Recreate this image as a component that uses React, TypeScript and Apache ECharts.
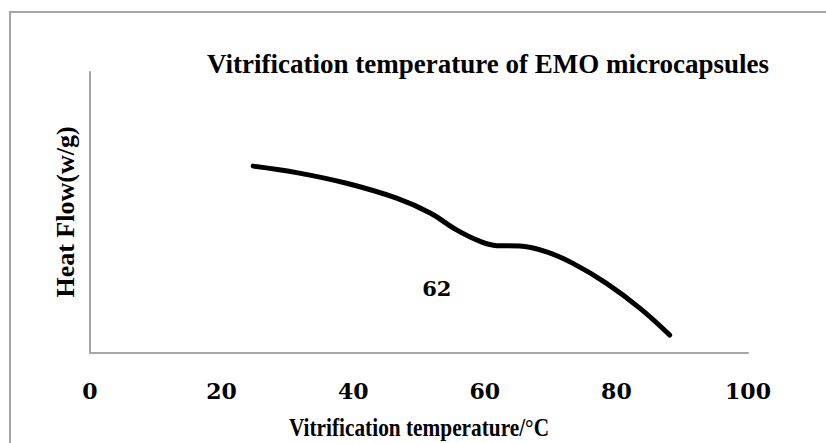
import React, { useEffect, useRef } from "react";
import * as echarts from "echarts";

const temperature = [24.8, 31.4, 39.0, 46.6, 51.7, 55.7, 59.3, 61.8, 65.3, 69.4, 73.4, 78.5, 83.6, 88.1];
const heatFlow = [66.5, 64.2, 60.4, 55.1, 49.8, 43.8, 39.7, 38.2, 38.1, 36.0, 31.9, 24.8, 15.9, 6.4];
const xTicks = [0, 20, 40, 60, 80, 100];
const annotationText = "62";
const annotationPos = [52.7, 23];
const titleText = "Vitrification temperature of EMO microcapsules";
const xName = "Vitrification temperature/°C";
const yName = "Heat Flow(w/g)";

export default function App() {
  const ref = useRef<HTMLDivElement>(null);
  useEffect(() => {
    if (!ref.current) return;
    const chart = echarts.init(ref.current, null, { renderer: "svg" });
    const data = temperature.map((t, i) => [t, heatFlow[i]]);
    const nameFont = { fontFamily: "Liberation Serif", fontWeight: "bold", fill: "#000" };
    chart.setOption({
      animation: false,
      backgroundColor: "#ffffff",
      title: {
        text: titleText,
        left: 483,
        top: 45,
        textAlign: "center",
        textStyle: { fontFamily: "Liberation Serif", fontWeight: "bold", fontSize: 27, color: "#000" },
      },
      graphic: [
        {
          type: "rect",
          shape: { x: 10, y: 12, width: 840, height: 460 },
          style: { fill: "none", stroke: "#a6a6a6", lineWidth: 2 },
          silent: true,
        },
        {
          type: "text",
          x: 419,
          y: 427,
          scaleX: 0.82,
          style: { ...nameFont, text: xName, fontSize: 26, textAlign: "center", textVerticalAlign: "middle" },
          silent: true,
        },
        {
          type: "text",
          x: 65,
          y: 212,
          rotation: Math.PI / 2,
          style: { ...nameFont, text: yName, fontSize: 26, textAlign: "center", textVerticalAlign: "middle" },
          silent: true,
        },
      ],
      grid: { left: 90, right: 78, top: 72, bottom: 90 },
      xAxis: {
        type: "value",
        min: xTicks[0],
        max: xTicks[xTicks.length - 1],
        interval: 20,
        axisLine: { show: true, lineStyle: { color: "#a6a6a6", width: 2 } },
        axisTick: { show: false },
        splitLine: { show: false },
        axisLabel: { margin: 27, fontFamily: "DejaVu Serif", fontWeight: "bold", fontSize: 22, color: "#000" },
      },
      yAxis: {
        type: "value",
        min: 0,
        max: 100,
        axisLine: { show: true, lineStyle: { color: "#a6a6a6", width: 2 } },
        axisTick: { show: false },
        splitLine: { show: false },
        axisLabel: { show: false },
      },
      series: [
        {
          type: "line",
          data,
          smooth: 0.4,
          showSymbol: false,
          lineStyle: { color: "#000", width: 5, cap: "round", join: "round" },
          markPoint: {
            symbol: "circle",
            symbolSize: 0,
            data: [{ coord: annotationPos, value: annotationText }],
            label: {
              show: true,
              formatter: annotationText,
              position: "inside",
              fontFamily: "DejaVu Serif",
              fontWeight: "bold",
              fontSize: 21,
              color: "#000",
            },
          },
        },
      ],
    });
    return () => chart.dispose();
  }, []);
  return <div ref={ref} style={{ width: 826, height: 443, position: "absolute", left: 0, top: 0 }} />;
}
